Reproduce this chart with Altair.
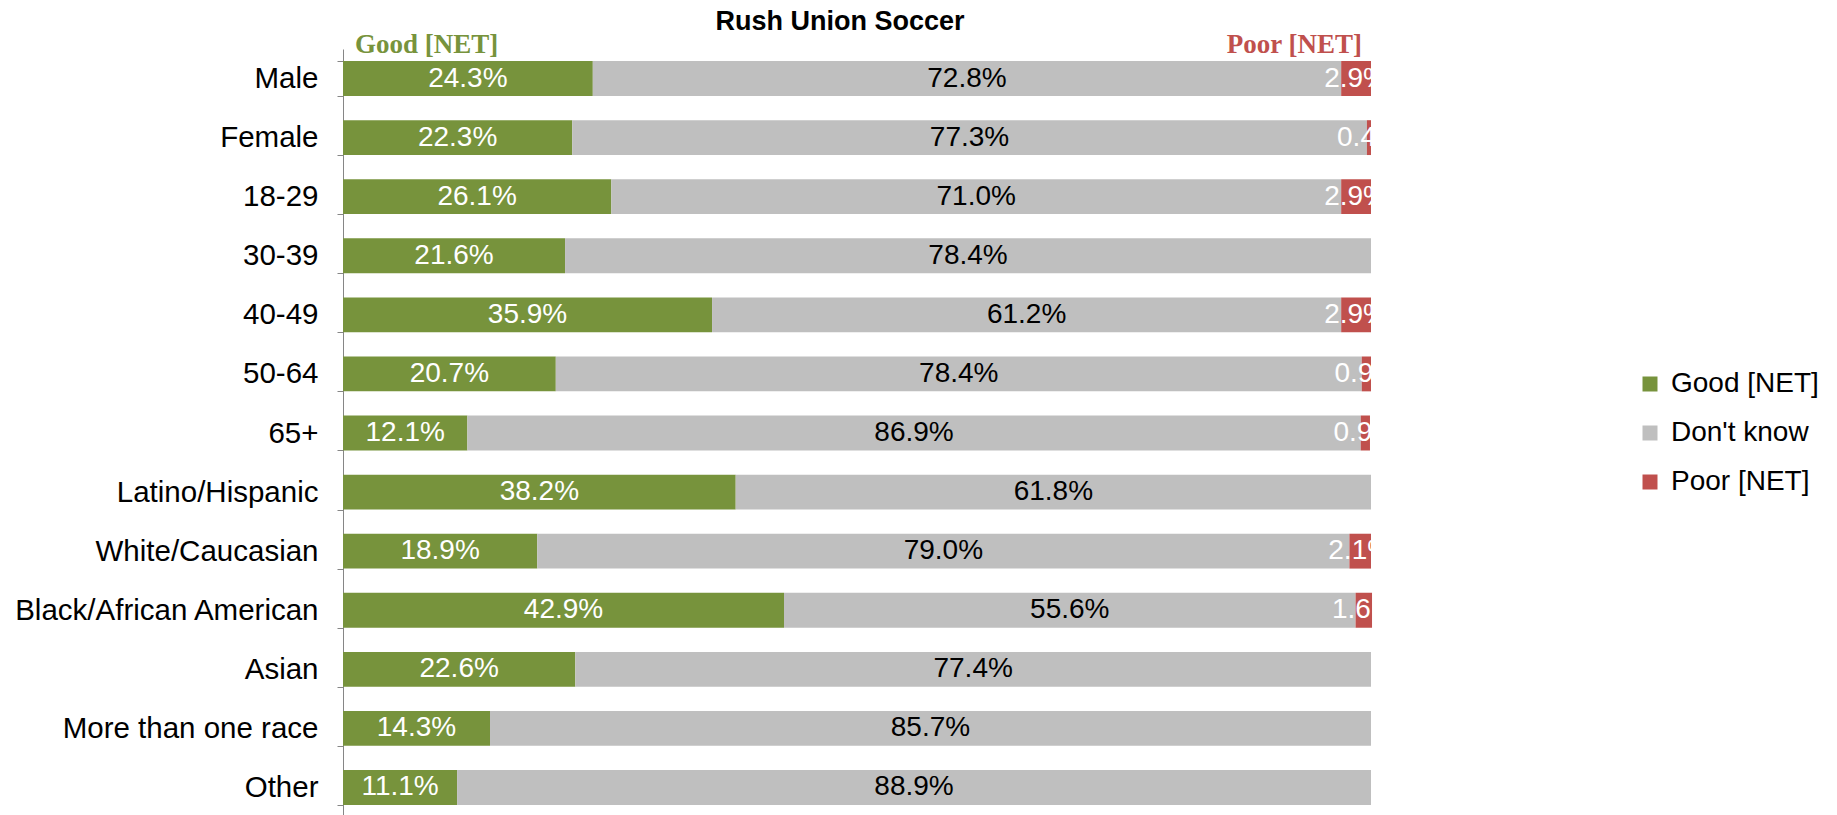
import altair as alt
import pandas as pd

categories = ["Male", "Female", "18-29", "30-39", "40-49", "50-64", "65+",
              "Latino/Hispanic", "White/Caucasian", "Black/African American",
              "Asian", "More than one race", "Other"]
good = [24.3, 22.3, 26.1, 21.6, 35.9, 20.7, 12.1, 38.2, 18.9, 42.9, 22.6, 14.3, 11.1]
dont_know = [72.8, 77.3, 71.0, 78.4, 61.2, 78.4, 86.9, 61.8, 79.0, 55.6, 77.4, 85.7, 88.9]
poor = [2.9, 0.4, 2.9, 0.0, 2.9, 0.9, 0.9, 0.0, 2.1, 1.6, 0.0, 0.0, 0.0]

series_names = ["Good [NET]", "Don't know", "Poor [NET]"]
series_colors = ["#77933C", "#BFBFBF", "#C0504D"]
label_colors = ["white", "black", "white"]

rows = []
for i, cat in enumerate(categories):
    start = 0.0
    for s, vals in enumerate([good, dont_know, poor]):
        v = vals[i]
        rows.append({
            "category": cat,
            "series": series_names[s],
            "order": s,
            "value": v,
            "start": start,
            "end": start + v,
            "mid": start + v / 2,
            "label": f"{v:.1f}%" if v > 0 else "",
            "tcolor": label_colors[s],
        })
        start += v
df = pd.DataFrame(rows)

ann_good = pd.DataFrame({"text": ["Good [NET]"], "x": [0]})
ann_poor = pd.DataFrame({"text": ["Poor [NET]"], "x": [100]})

y_axis = alt.Axis(labelFontSize=29.5, labelFont="Liberation Sans", labelColor="black",
                  domainColor="#868686", tickColor="#868686", tickSize=6,
                  labelPadding=19, tickBand="extent", grid=False, labelLimit=400)
y_scale = alt.Scale(paddingInner=0.41, paddingOuter=0.205)
x_scale = alt.Scale(domain=[0, 100], nice=False, zero=True)

bars = alt.Chart(df).mark_bar().encode(
    y=alt.Y("category:N", sort=categories, title=None, scale=y_scale, axis=y_axis),
    x=alt.X("start:Q", scale=x_scale, axis=None),
    x2="end:Q",
    color=alt.Color("series:N", sort=series_names,
                    scale=alt.Scale(domain=series_names, range=series_colors),
                    legend=alt.Legend(title=None, orient="none", legendX=1293, legendY=321,
                                      symbolType="square", symbolSize=225,
                                      symbolStrokeWidth=0, labelFontSize=28,
                                      labelFont="Liberation Sans", labelColor="black",
                                      rowPadding=21, padding=0, labelOffset=7,
                                      labelLimit=400)),
    order="order:Q",
)

texts = alt.Chart(df).transform_filter("datum.value > 0").mark_text(
    fontSize=28, font="Liberation Sans", clip=True
).encode(
    y=alt.Y("category:N", sort=categories, title=None, scale=y_scale, axis=y_axis),
    x=alt.X("mid:Q", scale=x_scale, axis=None),
    text="label:N",
    color=alt.Color("tcolor:N", scale=None),
)

annot_good = alt.Chart(ann_good).mark_text(
    fontSize=27, font="Liberation Serif", fontWeight="bold", baseline="alphabetic",
    align="left", dx=12, color=series_colors[0]
).encode(
    x=alt.X("x:Q", scale=x_scale, axis=None),
    y=alt.value(4),
    text="text:N",
)

annot_poor = alt.Chart(ann_poor).mark_text(
    fontSize=27, font="Liberation Serif", fontWeight="bold", baseline="alphabetic",
    align="right", dx=-9, color=series_colors[2]
).encode(
    x=alt.X("x:Q", scale=x_scale, axis=None),
    y=alt.value(4),
    text="text:N",
)

chart = alt.layer(bars, texts, annot_good, annot_poor).properties(
    width=1028,
    height=768,
    title=alt.TitleParams("Rush Union Soccer", fontSize=27, font="Liberation Sans",
                          fontWeight="bold", color="black", anchor="middle",
                          baseline="alphabetic", offset=0, dx=-17, dy=26),
    padding={"left": 335, "top": 41, "right": 450, "bottom": 0},
    autosize=alt.AutoSizeParams(type="none"),
).configure(background="white").configure_view(stroke=None, strokeWidth=0)

chart.save("out.html", embed_options={"renderer": "svg", "actions": False})
